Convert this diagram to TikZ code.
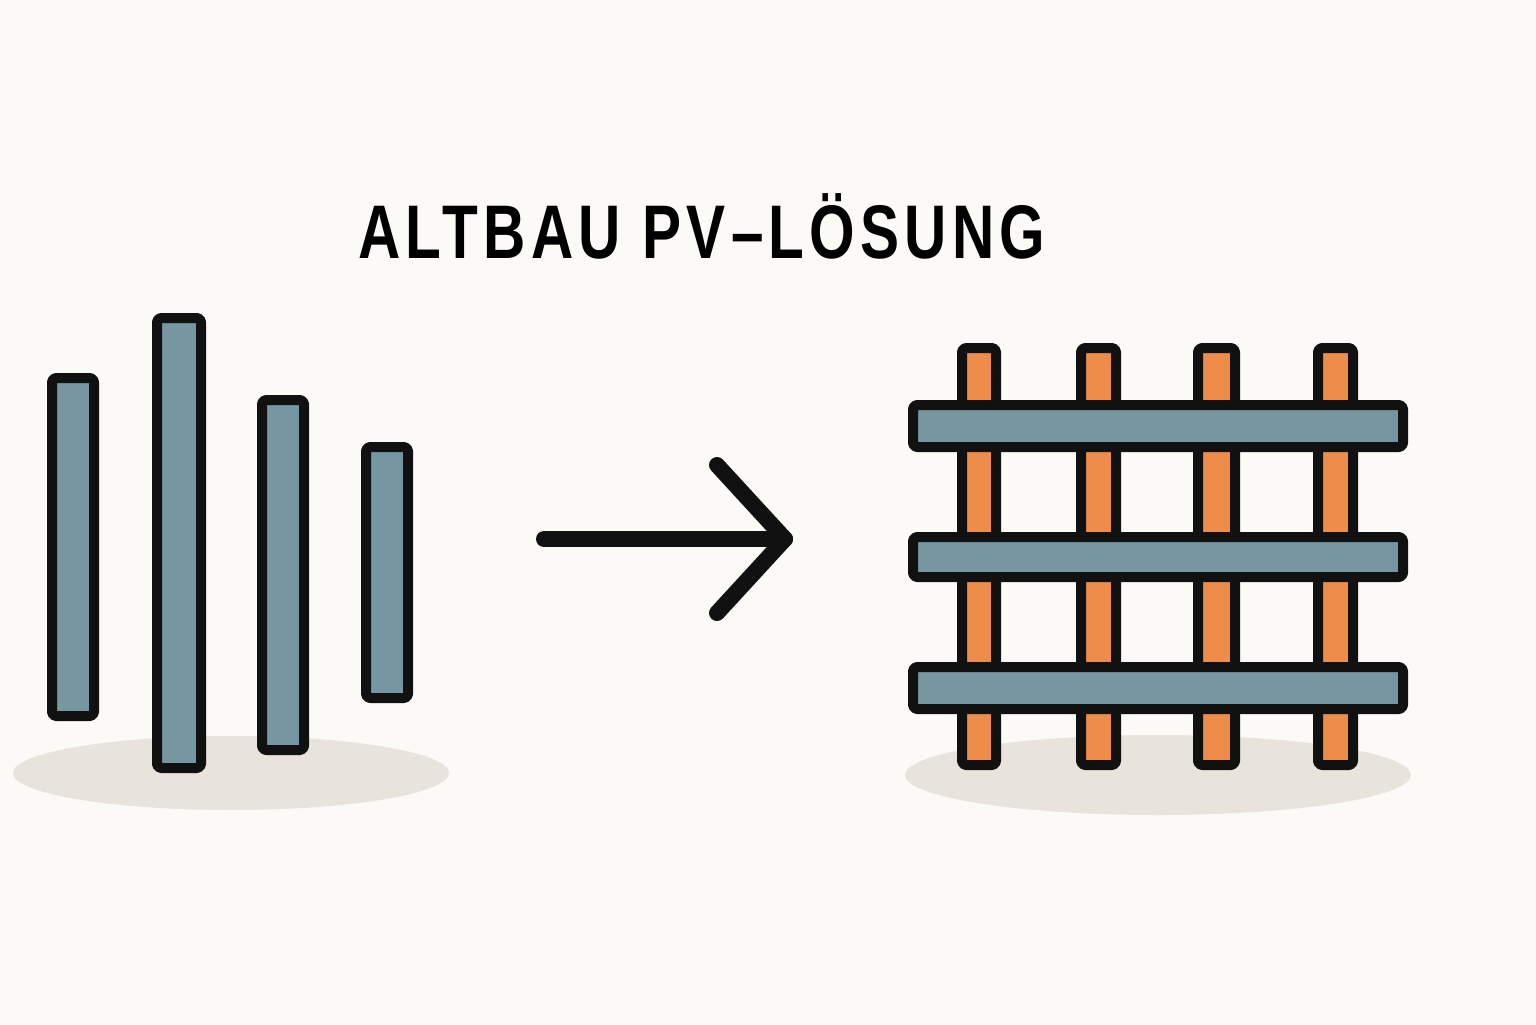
\documentclass[tikz,border=0pt]{standalone}
\usepackage{fontspec}
\setmainfont{Liberation Sans}
\newfontfamily\titlefont[LetterSpace=9]{Liberation Sans}
\definecolor{bg}{HTML}{FBFAF6}
\definecolor{steel}{HTML}{7696A1}
\definecolor{copper}{HTML}{EE8C4A}
\definecolor{ink}{HTML}{111111}
\definecolor{shadow}{HTML}{E9E4DB}
\begin{document}
\begin{tikzpicture}[x=0.5pt,y=-0.5pt,
  barbox/.style={draw=ink,line width=5pt,rounded corners=2pt,line join=round},
  steelbar/.style={barbox,fill=steel},
  copperbar/.style={barbox,fill=copper},
  ground/.style={fill=shadow,draw=none},
  bigarrow/.style={draw=ink,line width=8pt,line cap=round,line join=round}]
\fill[bg] (0,0) rectangle (1536,1024);
\useasboundingbox (0,0) rectangle (1536,1024);
% title
\node[anchor=base west,inner sep=0pt,font=\titlefont\bfseries\fontsize{38}{40}\selectfont] (title) at (358,258)
  {\scalebox{0.77}[1]{ALTBAU PV–LÖSUNG}};
% left group
\fill[ground] (231,773) ellipse [x radius=218,y radius=37];
\draw[steelbar] (52,378) rectangle (94,716);
\draw[steelbar] (157,318) rectangle (201,768);
\draw[steelbar] (262,400) rectangle (304,750);
\draw[steelbar] (366,447) rectangle (408,698);
% arrow
\coordinate (arrS) at (544,539);
\coordinate (arrE) at (785,539);
\coordinate (headU) at (717,465);
\coordinate (headD) at (717,613);
\draw[bigarrow] (arrS) -- (arrE);
\draw[bigarrow] (headU) -- (arrE) -- (headD);
% right group
\fill[ground] (1158,775) ellipse [x radius=253,y radius=40];
\draw[copperbar] (962,348) rectangle (996,765);
\draw[copperbar] (1081,348) rectangle (1116,765);
\draw[copperbar] (1198,348) rectangle (1235,765);
\draw[copperbar] (1318,348) rectangle (1353,765);
\draw[steelbar] (913,405) rectangle (1403,447);
\draw[steelbar] (913,537) rectangle (1403,577);
\draw[steelbar] (913,667) rectangle (1403,709);
\end{tikzpicture}
\end{document}
